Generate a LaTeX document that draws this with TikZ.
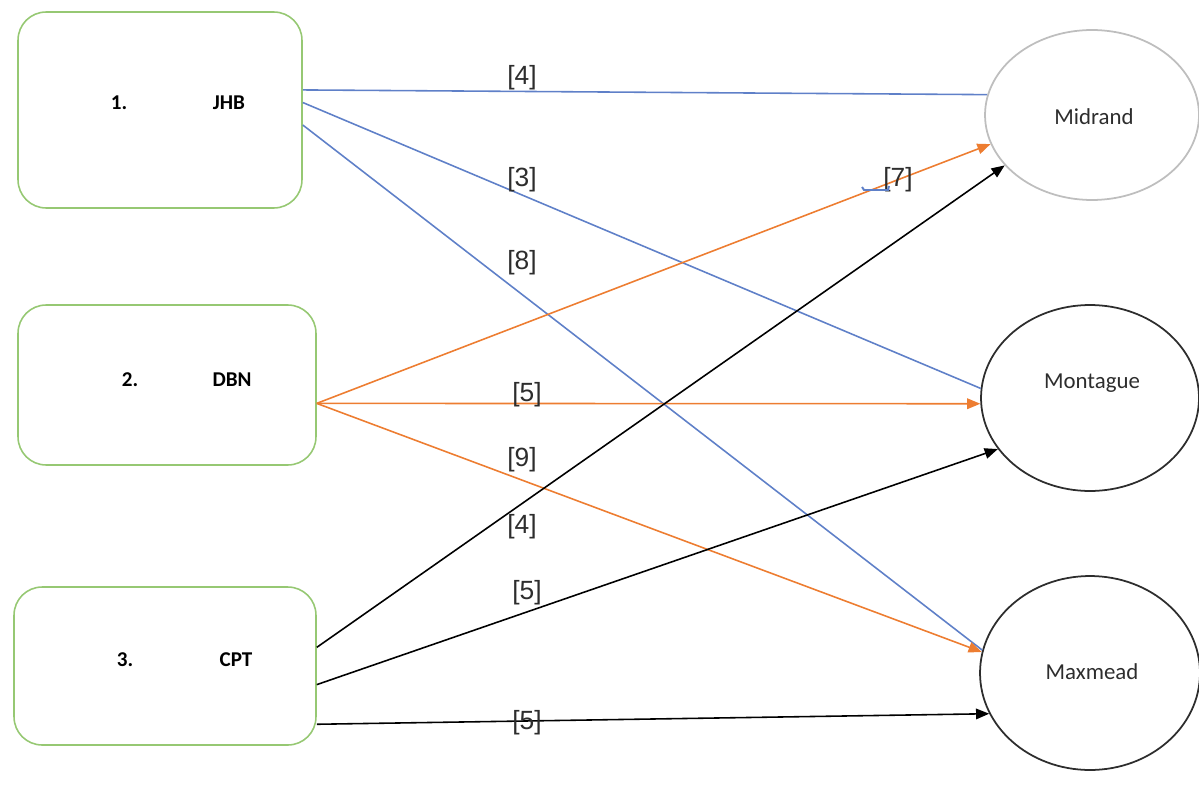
\documentclass[tikz,border=0pt]{standalone}
\usepackage{fontspec}
\setmainfont{Carlito}
\newfontfamily\weightfont{Liberation Sans}
\usetikzlibrary{arrows.meta,shapes.geometric}

\definecolor{boxgreen}{RGB}{150,200,115}
\definecolor{lineblue}{RGB}{95,128,200}
\definecolor{lineorange}{RGB}{237,125,49}
\definecolor{ringgray}{RGB}{190,190,190}
\definecolor{ringdark}{RGB}{45,45,45}

\begin{document}
\begin{tikzpicture}[x=0.02cm, y=-0.02cm,
  city/.style={rectangle, draw=boxgreen, line width=0.9pt, rounded corners=16pt, inner sep=0pt},
  site/.style={ellipse, draw=ringdark, line width=1pt, inner sep=0pt},
  sitename/.style={font=\fontsize{13}{15}\selectfont, text=ringdark},
  tag/.style={font=\bfseries\fontsize{12}{14}\selectfont},
  weight/.style={font=\weightfont\fontsize{15}{17}\selectfont, inner sep=1pt, text=ringdark},
  road/.style={line width=0.9pt},
  roadarrow/.style={-{Triangle[length=7.5pt,width=6pt]}}]

\useasboundingbox (0,0) rectangle (1199,787);

% depots
\node (jhb)[city, minimum width=5.68cm, minimum height=3.92cm] at (160,110) {};
\node (dbn)[city, minimum width=5.96cm, minimum height=3.2cm] at (167,385) {};
\node (cpt)[city, minimum width=6.04cm, minimum height=3.16cm] at (165,666) {};

\node (jhbnum)[tag] at (119,103) {1.};
\node (jhbname)[tag] at (229,103) {JHB};
\node (dbnnum)[tag] at (130,380) {2.};
\node (dbnname)[tag] at (232,380) {DBN};
\node (cptnum)[tag] at (125,660) {3.};
\node (cptname)[tag] at (236,660) {CPT};

% destinations
\node (midrand)[site, draw=ringgray, minimum width=4.28cm, minimum height=3.4cm] at (1092,115) {};
\node (montague)[site, minimum width=4.36cm, minimum height=3.72cm] at (1090,398) {};
\node (maxmead)[site, minimum width=4.4cm, minimum height=3.88cm] at (1090,673) {};

\node (midrandname)[sitename] at (1094,117) {Midrand};
\node (montaguename)[sitename] at (1092,383) {Montague};
\node (maxmeadname)[sitename] at (1092,672) {Maxmead};

% routes from JHB
\draw[road, lineblue] (jhb.8) -- (midrand.169);
\draw[road, lineblue] (jhb.3) -- (montague.175);
\draw[road, lineblue] (jhb.-6) -- (maxmead.168);

% routes from DBN
\draw[road, roadarrow, lineorange] (dbn.-7) -- (midrand.196);
\draw[road, roadarrow, lineorange] (dbn.-7) -- (montague.183);
\draw[road, roadarrow, lineorange] (dbn.-7) -- (maxmead.169);

% routes from CPT
\draw[road, roadarrow] (cpt.7) -- (midrand.210);
\draw[road, roadarrow] (cpt.-7) -- (montague.209);
\draw[road, roadarrow] (cpt.-21) -- (maxmead.202);

% weights
\node (w11)[weight] at (522,78) {[4]};
\node (w12)[weight] at (522,180) {[3]};
\node (w13)[weight] at (522,263) {[8]};
\node (w21)[weight] at (898,180) {[7]};
\node (w22)[weight] at (527,395) {[5]};
\node (w23)[weight] at (522,460) {[9]};
\node (w31)[weight] at (522,527) {[4]};
\node (w32)[weight] at (527,593) {[5]};
\node (w33)[weight] at (527,723) {[5]};

\draw[lineblue, line width=1.1pt] (862,187) -- (864,190) -- (888,190) -- (889,186);

\end{tikzpicture}
\end{document}
